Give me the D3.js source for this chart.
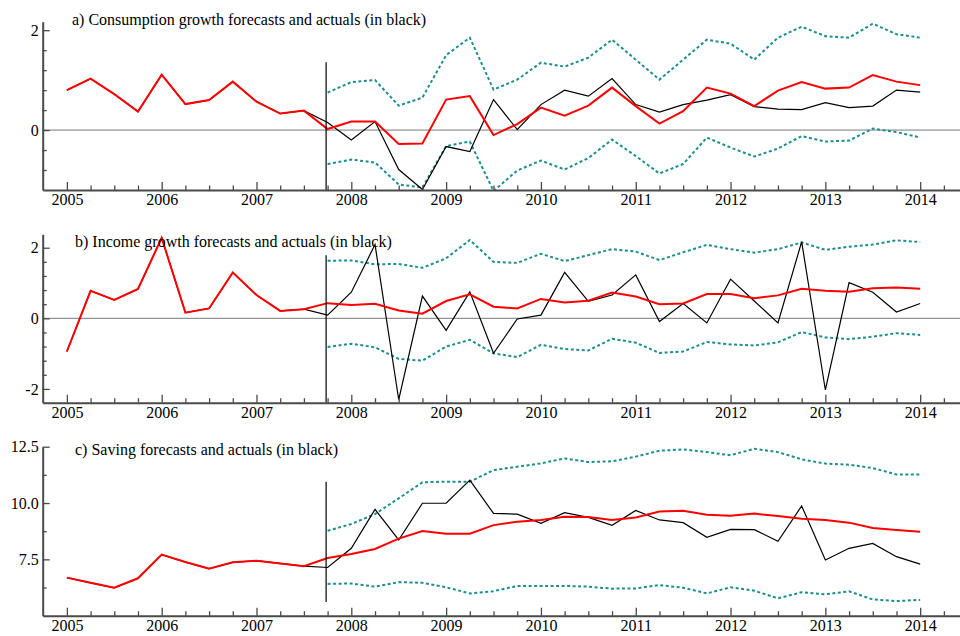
<!DOCTYPE html>
<html>
<head>
<meta charset="utf-8">
<script src="https://cdn.jsdelivr.net/npm/d3@7"></script>
<style>
  body { margin: 0; background: #fff; }
  svg { display: block; }
  text { font-family: "Liberation Serif", "Times New Roman", serif; }
</style>
</head>
<body>
<div id="chart"></div>
<script>
// constantes
const w = 960;
const h = 636;

// dates : historique 2005Q1-2007Q3, prévision 2007Q4-2014Q1
const histStart = 2005;
const foreStart = 2007.75;
const years = [2005, 2006, 2007, 2008, 2009, 2010, 2011, 2012, 2013, 2014];

// a) consommation
const consHist = [0.8, 1.03, 0.72, 0.37, 1.11, 0.52, 0.6, 0.97, 0.57, 0.33, 0.39];
const consFore = [0.02, 0.17, 0.17, -0.28, -0.27, 0.61, 0.68, -0.1, 0.12, 0.45, 0.29, 0.49, 0.85,
                  0.48, 0.13, 0.38, 0.85, 0.73, 0.48, 0.79, 0.96, 0.83, 0.85, 1.1, 0.97, 0.9];
const consActual = [0.15, -0.2, 0.17, -0.79, -1.19, -0.33, -0.43, 0.61, 0.01, 0.51, 0.8, 0.68, 1.03,
                    0.51, 0.36, 0.51, 0.6, 0.71, 0.47, 0.42, 0.41, 0.55, 0.45, 0.48, 0.8, 0.76];
const consUpper = [0.75, 0.96, 1.0, 0.49, 0.65, 1.5, 1.85, 0.81, 1.01, 1.35, 1.27, 1.45, 1.81,
                   1.41, 1.01, 1.41, 1.81, 1.73, 1.41, 1.85, 2.07, 1.88, 1.85, 2.13, 1.92, 1.85];
const consLower = [-0.68, -0.59, -0.65, -1.09, -1.15, -0.32, -0.23, -1.22, -0.81, -0.61, -0.79, -0.56, -0.19,
                   -0.52, -0.87, -0.68, -0.15, -0.35, -0.53, -0.37, -0.12, -0.23, -0.21, 0.03, -0.04, -0.15];

// b) revenu
const incHist = [-0.94, 0.78, 0.52, 0.83, 2.28, 0.16, 0.28, 1.3, 0.66, 0.21, 0.26];
const incFore = [0.43, 0.38, 0.41, 0.22, 0.13, 0.49, 0.68, 0.33, 0.28, 0.55, 0.45, 0.5, 0.73,
                 0.62, 0.4, 0.42, 0.69, 0.69, 0.57, 0.65, 0.84, 0.78, 0.75, 0.85, 0.87, 0.84];
const incActual = [0.09, 0.74, 2.09, -2.3, 0.63, -0.34, 0.75, -0.99, -0.02, 0.09, 1.3, 0.48, 0.66,
                   1.23, -0.09, 0.42, -0.13, 1.11, 0.49, -0.13, 2.17, -2.03, 1.01, 0.74, 0.18, 0.42];
const incUpper = [1.63, 1.64, 1.53, 1.54, 1.43, 1.7, 2.22, 1.6, 1.57, 1.83, 1.62, 1.79, 1.96,
                  1.89, 1.65, 1.87, 2.08, 1.96, 1.86, 1.96, 2.15, 1.94, 2.03, 2.09, 2.21, 2.16];
const incLower = [-0.81, -0.72, -0.82, -1.15, -1.2, -0.8, -0.61, -0.99, -1.1, -0.75, -0.87, -0.91, -0.58,
                  -0.69, -0.98, -0.94, -0.67, -0.74, -0.77, -0.68, -0.39, -0.54, -0.59, -0.52, -0.42, -0.47];

// c) épargne
const savHist = [6.69, 6.46, 6.24, 6.66, 7.71, 7.38, 7.09, 7.37, 7.44, 7.32, 7.2];
const savFore = [7.56, 7.74, 7.96, 8.42, 8.76, 8.64, 8.64, 9.02, 9.17, 9.25, 9.39, 9.38, 9.25,
                 9.36, 9.62, 9.66, 9.48, 9.44, 9.53, 9.42, 9.3, 9.25, 9.13, 8.89, 8.8, 8.73];
const savActual = [7.14, 7.99, 9.72, 8.36, 9.99, 9.99, 11.02, 9.54, 9.51, 9.1, 9.57, 9.36, 9.01,
                   9.67, 9.25, 9.13, 8.48, 8.83, 8.82, 8.3, 9.87, 7.47, 7.99, 8.21, 7.62, 7.29];
const savUpper = [8.77, 9.07, 9.51, 10.21, 10.92, 10.95, 10.95, 11.46, 11.61, 11.76, 11.98, 11.82, 11.85,
                  12.06, 12.32, 12.38, 12.26, 12.12, 12.41, 12.26, 11.94, 11.75, 11.7, 11.55, 11.27, 11.27];
const savLower = [6.41, 6.43, 6.29, 6.49, 6.46, 6.26, 5.99, 6.09, 6.32, 6.32, 6.32, 6.29, 6.2,
                  6.21, 6.36, 6.24, 5.99, 6.26, 6.11, 5.77, 6.04, 5.95, 6.08, 5.72, 5.65, 5.7];

// graduations
const consTicks = [0, 2];
const consMinor = [-0.8, -0.4, 0.4, 0.8, 1.2, 1.6];
const incTicks = [-2, 0, 2];
const incMinor = [-1.6, -1.2, -0.8, -0.4, 0.4, 0.8, 1.2, 1.6];
const savTicks = [7.5, 10, 12.5];
const savMinor = [6.25, 8.75, 11.25];

// panneaux
const panels = [
  { title: "a) Consumption growth forecasts and actuals (in black)", tx: 72, ty: 25,
    hist: consHist, fore: consFore, actual: consActual, upper: consUpper, lower: consLower,
    domain: [-1.2, 2.17], range: [190, 21.7], ticks: consTicks, minor: consMinor,
    fmt: d => String(d), zero: true, vline: [-1.2, 1.36] },
  { title: "b) Income growth forecasts and actuals (in black)", tx: 75, ty: 247,
    hist: incHist, fore: incFore, actual: incActual, upper: incUpper, lower: incLower,
    domain: [-2.39, 2.38], range: [402.7, 234.3], ticks: incTicks, minor: incMinor,
    fmt: d => String(d), zero: true, vline: [-2.39, 1.79] },
  { title: "c) Saving forecasts and actuals (in black)", tx: 75, ty: 455,
    hist: savHist, fore: savFore, actual: savActual, upper: savUpper, lower: savLower,
    domain: [5, 12.5], range: [615.7, 446.7], ticks: savTicks, minor: savMinor,
    fmt: d3.format(".1f"), zero: false, vline: [5.61, 10.95] }
];

const svg = d3.select("#chart").append("svg")
    .attr("width", w)
    .attr("height", h);

const xScale = d3.scaleLinear()
    .domain([2004.745, 2014.42])
    .range([42.7, 960]);

const quarters = [];
for (let y = 2005.25; y <= 2014.25; y += 0.25) {
  if (y % 1 !== 0) quarters.push(y);
}

const axisColor = "#4a4a4a";

panels.forEach((p, i) => {
  const yScale = d3.scaleLinear().domain(p.domain).range(p.range);
  const g = svg.append("g");

  // zone de découpe
  g.append("clipPath").attr("id", "clip" + i)
    .append("rect")
    .attr("x", xScale.range()[0])
    .attr("y", p.range[1])
    .attr("width", xScale.range()[1] - xScale.range()[0])
    .attr("height", p.range[0] - p.range[1]);

  // séries
  const histPts = p.hist.map((v, k) => [histStart + k * 0.25, v]);
  const last = histPts[histPts.length - 1];
  const forePts = p.fore.map((v, k) => [foreStart + k * 0.25, v]);
  const actPts = p.actual.map((v, k) => [foreStart + k * 0.25, v]);
  const upPts = p.upper.map((v, k) => [foreStart + k * 0.25, v]);
  const loPts = p.lower.map((v, k) => [foreStart + k * 0.25, v]);

  const line = d3.line().x(d => xScale(d[0])).y(d => yScale(d[1]));

  const plot = g.append("g").attr("clip-path", "url(#clip" + i + ")");

  if (p.zero) {
    plot.append("line")
      .attr("x1", xScale.range()[0]).attr("x2", xScale.range()[1])
      .attr("y1", yScale(0)).attr("y2", yScale(0))
      .attr("stroke", "#7a7a7a").attr("stroke-width", 1);
  }

  [upPts, loPts].forEach(pts => {
    plot.append("path")
      .attr("d", line(pts))
      .attr("fill", "none")
      .attr("stroke", "#1b8e8e")
      .attr("stroke-width", 2)
      .attr("stroke-dasharray", "3,2.5");
  });

  plot.append("path")
    .attr("d", line(histPts.concat(actPts)))
    .attr("fill", "none")
    .attr("stroke", "#000")
    .attr("stroke-width", 1.2);

  plot.append("path")
    .attr("d", line(histPts.concat(forePts)))
    .attr("fill", "none")
    .attr("stroke", "#ff0000")
    .attr("stroke-width", 2);

  // ligne verticale début de prévision
  g.append("line")
    .attr("x1", xScale(foreStart) - 1.5).attr("x2", xScale(foreStart) - 1.5)
    .attr("y1", yScale(p.vline[0])).attr("y2", yScale(p.vline[1]))
    .attr("stroke", "#000").attr("stroke-width", 1.2);

  // axe x
  const axeX = d3.axisBottom(xScale)
    .tickValues(years)
    .tickFormat(d3.format("d"))
    .tickSizeInner(-8)
    .tickSizeOuter(0)
    .tickPadding(4);
  const gx = g.append("g")
    .attr("transform", "translate(0," + p.range[0] + ")")
    .call(axeX);
  gx.select(".domain").attr("stroke", axisColor).attr("stroke-width", 2);
  gx.selectAll(".tick line").attr("stroke", axisColor).attr("stroke-width", 1.3);
  gx.selectAll("text")
    .attr("font-family", "Liberation Serif")
    .attr("font-size", "16px")
    .attr("fill", "#000");

  const axeXmin = d3.axisBottom(xScale)
    .tickValues(quarters)
    .tickFormat("")
    .tickSizeInner(-4.5)
    .tickSizeOuter(0);
  const gxm = g.append("g")
    .attr("transform", "translate(0," + p.range[0] + ")")
    .call(axeXmin);
  gxm.select(".domain").remove();
  gxm.selectAll(".tick line").attr("stroke", axisColor).attr("stroke-width", 1.3);

  // axe y
  const axeY = d3.axisLeft(yScale)
    .tickValues(p.ticks)
    .tickFormat(p.fmt)
    .tickSizeInner(-7)
    .tickSizeOuter(0)
    .tickPadding(4);
  const gy = g.append("g")
    .attr("transform", "translate(" + xScale.range()[0] + ",0)")
    .call(axeY);
  gy.select(".domain").attr("stroke", axisColor).attr("stroke-width", 2);
  gy.selectAll(".tick line").attr("stroke", axisColor).attr("stroke-width", 1.3);
  gy.selectAll("text")
    .attr("font-family", "Liberation Serif")
    .attr("font-size", "16px")
    .attr("fill", "#000");

  const axeYmin = d3.axisLeft(yScale)
    .tickValues(p.minor)
    .tickFormat("")
    .tickSizeInner(-4)
    .tickSizeOuter(0);
  const gym = g.append("g")
    .attr("transform", "translate(" + xScale.range()[0] + ",0)")
    .call(axeYmin);
  gym.select(".domain").remove();
  gym.selectAll(".tick line").attr("stroke", axisColor).attr("stroke-width", 1.3);

  // titre
  g.append("text")
    .attr("x", p.tx)
    .attr("y", p.ty)
    .attr("font-size", "16px")
    .attr("fill", "#000")
    .text(p.title);
});
</script>
</body>
</html>
